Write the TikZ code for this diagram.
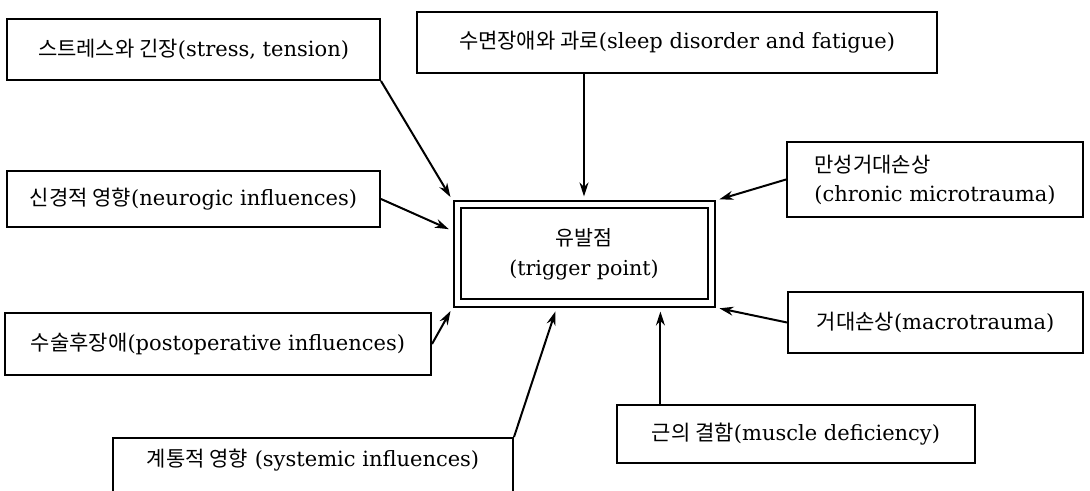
\documentclass[tikz,border=0pt]{standalone}
\usepackage{fontspec}
\setmainfont{DejaVu Serif}
\newfontfamily\kr{Noto Sans CJK KR}
\usetikzlibrary{arrows.meta}

\begin{document}
\begin{tikzpicture}[->,>={Stealth[length=7pt,width=4.5pt]},shorten >=2pt,auto,x=0.5pt,y=-0.5pt,
  line width=1pt,
  box node/.style={rectangle,fill=white,draw,align=center,inner sep=2pt,
    font=\fontsize{10.5pt}{12.5pt}\selectfont},
  trig node/.style={rectangle,fill=white,draw,double,double distance=2.5pt,
    outer sep=2.25pt,align=center,font=\fontsize{10.3pt}{12.5pt}\selectfont}]

  \useasboundingbox (0,0) rectangle (1090,491);

  \node[trig node,minimum width=127pt,minimum height=49pt] (tp) at (584,254) {{\kr 유발점}\\[2.5pt](trigger point)};
  \node[box node,minimum width=186.5pt,minimum height=30.5pt] (1) at (193.5,49.5) {{\kr 스트레스와 긴장}(stress, tension)};
  \node[box node,minimum width=260pt,minimum height=30.5pt] (2) at (677,42.5) {{\kr 수면장애와 과로}(sleep disorder and fatigue)};
  \node[box node,minimum width=186.5pt,minimum height=28pt] (3) at (193.5,199) {{\kr 신경적 영향}(neurogic influences)};
  \node[box node,minimum width=148pt,minimum height=37.5pt,align=left] (4) at (935,179.5) {{\kr 만성거대손상}\\[2pt](chronic microtrauma)};
  \node[box node,minimum width=147.5pt,minimum height=30.5pt] (5) at (935.5,322.5) {{\kr 거대손상}(macrotrauma)};
  \node[box node,minimum width=213pt,minimum height=31pt] (6) at (218,344) {{\kr 수술후장애}(postoperative influences)};
  \node[box node,minimum width=200pt,minimum height=30pt,text depth=10.5pt] (7) at (313,468) {{\kr 계통적 영향} (systemic influences)};
  \node[box node,minimum width=179pt,minimum height=29pt] (8) at (796,434) {{\kr 근의 결함}(muscle deficiency)};

  \path
    (1.south east) edge (tp.north west)
    (2.south -| tp.north) edge (tp.north)
    (3.east) edge (tp.170)
    (4.west) edge (tp.north east)
    (5.west) edge (tp.south east)
    (6.east) edge (tp.south west)
    (7.north east) edge (tp.243)
    (8.north -| tp.325) edge (tp.325);

\end{tikzpicture}
\end{document}
